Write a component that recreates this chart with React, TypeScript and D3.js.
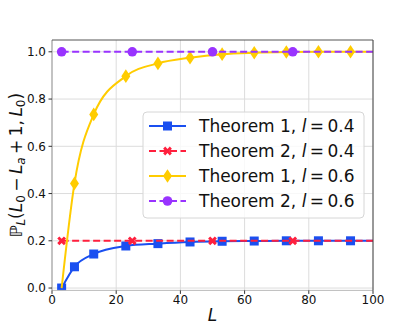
import React from 'react';
import * as d3 from 'd3';

// values
const T1_L = [3, 7, 13, 23, 33, 43, 53, 63, 73, 83, 93, 100];
const T1_L04 = [0, 0.09, 0.144, 0.178, 0.188, 0.195, 0.198, 0.199, 0.2, 0.2, 0.2, 0.2];
const T1_L06 = [0, 0.443, 0.735, 0.897, 0.951, 0.975, 0.99, 0.996, 0.999, 1.0, 1.0, 1.0];
const T2_L = [3, 25, 50, 75, 100];
const T2_L04 = [0.2, 0.2, 0.2, 0.2, 0.2];
const T2_L06 = [1.0, 1.0, 1.0, 1.0, 1.0];
const X_TICKS = [0, 20, 40, 60, 80, 100];
const Y_TICKS = [0, 0.2, 0.4, 0.6, 0.8, 1.0];

const W = 415;
const H = 332;
const margin = { top: 40, right: 42, bottom: 41.6, left: 52 };
const FONT = 'DejaVu Sans, sans-serif';

const series = [
  { name: 'Theorem 1', l: '0.4', xs: T1_L, ys: T1_L04, color: '#1a4ff0', dash: null, marker: 'square', smooth: true, skipFirstMarker: false },
  { name: 'Theorem 2', l: '0.4', xs: T2_L, ys: T2_L04, color: '#ff1f3d', dash: '7,3.5', marker: 'x', smooth: false, skipFirstMarker: false },
  { name: 'Theorem 1', l: '0.6', xs: T1_L, ys: T1_L06, color: '#ffcc00', dash: null, marker: 'diamond', smooth: true, skipFirstMarker: true },
  { name: 'Theorem 2', l: '0.6', xs: T2_L, ys: T2_L06, color: '#9933ff', dash: '7,3.5', marker: 'circle', smooth: false, skipFirstMarker: false },
];

const Marker = ({ type, x, y, color }: { type: string; x: number; y: number; color: string }) => {
  if (type === 'square') {
    return <rect x={x - 4.5} y={y - 4.5} width={9} height={9} fill={color} />;
  }
  if (type === 'circle') {
    return <circle cx={x} cy={y} r={4.8} fill={color} />;
  }
  if (type === 'diamond') {
    const w = 4.5, h = 6.8;
    return <path d={`M${x},${y - h}L${x + w},${y}L${x},${y + h}L${x - w},${y}Z`} fill={color} />;
  }
  // filled X
  const a = 2.1, b = 4.4;
  const pts = [
    [0, -a], [b - a, -b], [b, -b + a], [a, 0], [b, b - a], [b - a, b],
    [0, a], [-b + a, b], [-b, b - a], [-a, 0], [-b, -b + a], [-b + a, -b],
  ];
  return <path d={'M' + pts.map(p => `${x + p[0]},${y + p[1]}`).join('L') + 'Z'} fill={color} />;
};

export default function App() {
  const x = d3.scaleLinear().domain([0, 100]).range([margin.left, W - margin.right]);
  const y = d3.scaleLinear().domain([-0.01, 1.05]).range([H - margin.bottom, margin.top]);
  const [x0, x1] = x.range();
  const [y0, y1] = y.range();

  const legendX = 143;
  const legendY = 112;
  const rowH = 25;

  return (
    <svg width={W} height={H} style={{ position: 'absolute', left: 0, top: 0, background: '#fff' }} fontFamily={FONT}>
      <defs>
        <clipPath id="plot">
          <rect x={x0} y={y1} width={x1 - x0} height={y0 - y1} />
        </clipPath>
      </defs>
      {/* grid */}
      <g stroke="#dcdcdc" strokeWidth={1}>
        {X_TICKS.map(t => <line key={'gx' + t} x1={x(t)} x2={x(t)} y1={y1} y2={y0} />)}
        {Y_TICKS.map(t => <line key={'gy' + t} x1={x0} x2={x1} y1={y(t)} y2={y(t)} />)}
      </g>

      {/* series */}
      <g clipPath="url(#plot)">
        {series.map((s, i) => {
          const pts = s.xs.map((v, j) => [x(v), y(s.ys[j])] as [number, number]);
          const line = d3.line().curve(s.smooth ? d3.curveMonotoneX : d3.curveLinear)(pts) || '';
          return (
            <g key={i}>
              <path d={line} fill="none" stroke={s.color} strokeWidth={2} strokeDasharray={s.dash || undefined} />
              {pts.slice(s.skipFirstMarker ? 1 : 0, -1).map((p, j) => (
                <Marker key={j} type={s.marker} x={p[0]} y={p[1]} color={s.color} />
              ))}
            </g>
          );
        })}
      </g>

      {/* spines */}
      <line x1={x0} x2={x0} y1={y1} y2={y0} stroke="#999" strokeWidth={1} />
      <line x1={x0} x2={x1} y1={y0} y2={y0} stroke="#bbb" strokeWidth={1} />
      <line x1={x0} x2={x1} y1={y1} y2={y1} stroke="#555" strokeWidth={1} />
      <line x1={x1} x2={x1} y1={y1} y2={y0} stroke="#444" strokeWidth={1} />

      {/* ticks */}
      <g fontSize={12} fill="#111">
        {Y_TICKS.map(t => (
          <g key={'ty' + t}>
            <line x1={x0 - 3.5} x2={x0} y1={y(t)} y2={y(t)} stroke="#333" />
            <text x={x0 - 6} y={y(t)} dy="0.36em" textAnchor="end">{t.toFixed(1)}</text>
          </g>
        ))}
        {X_TICKS.map(t => (
          <g key={'tx' + t}>
            <line x1={x(t)} x2={x(t)} y1={y0} y2={y0 + 3.5} stroke="#333" />
            <text x={x(t)} y={y0 + 13.5} textAnchor="middle">{t}</text>
          </g>
        ))}
      </g>

      {/* axis labels */}
      <text x={(x0 + x1) / 2} y={321} fontSize={17} fontStyle="italic" textAnchor="middle" fill="#111">L</text>
      <text transform={`translate(22,${(y0 + y1) / 2}) rotate(-90)`} fontSize={17} textAnchor="middle" fill="#111">
        <tspan>ℙ</tspan>
        <tspan fontStyle="italic" fontSize={12} dy={3}>L</tspan>
        <tspan dy={-3}>(</tspan>
        <tspan fontStyle="italic">L</tspan>
        <tspan fontSize={12} dy={3}>0</tspan>
        <tspan dy={-3}>{'\u2009−\u2009'}</tspan>
        <tspan fontStyle="italic">L</tspan>
        <tspan fontStyle="italic" fontSize={12} dy={3}>a</tspan>
        <tspan dy={-3}>{'\u2009+\u20091,\u2009'}</tspan>
        <tspan fontStyle="italic">L</tspan>
        <tspan fontSize={12} dy={3}>0</tspan>
        <tspan dy={-3}>)</tspan>
      </text>

      {/* legend */}
      <rect x={legendX} y={legendY} width={221} height={106} rx={4} fill="#fff" fillOpacity={0.8} stroke="#d6d6d6" />
      {series.map((s, i) => {
        const cy = legendY + 14 + i * rowH;
        return (
          <g key={'lg' + i}>
            <line x1={legendX + 6} x2={legendX + 43} y1={cy} y2={cy} stroke={s.color} strokeWidth={2} strokeDasharray={s.dash || undefined} />
            <Marker type={s.marker} x={legendX + 24.5} y={cy} color={s.color} />
            <text x={legendX + 56} y={cy} dy="0.36em" fontSize={17} fill="#111">
              {`${s.name}, `}
              <tspan fontStyle="italic">l</tspan>
              {`\u2009=\u2009${s.l}`}
            </text>
          </g>
        );
      })}
    </svg>
  );
}
